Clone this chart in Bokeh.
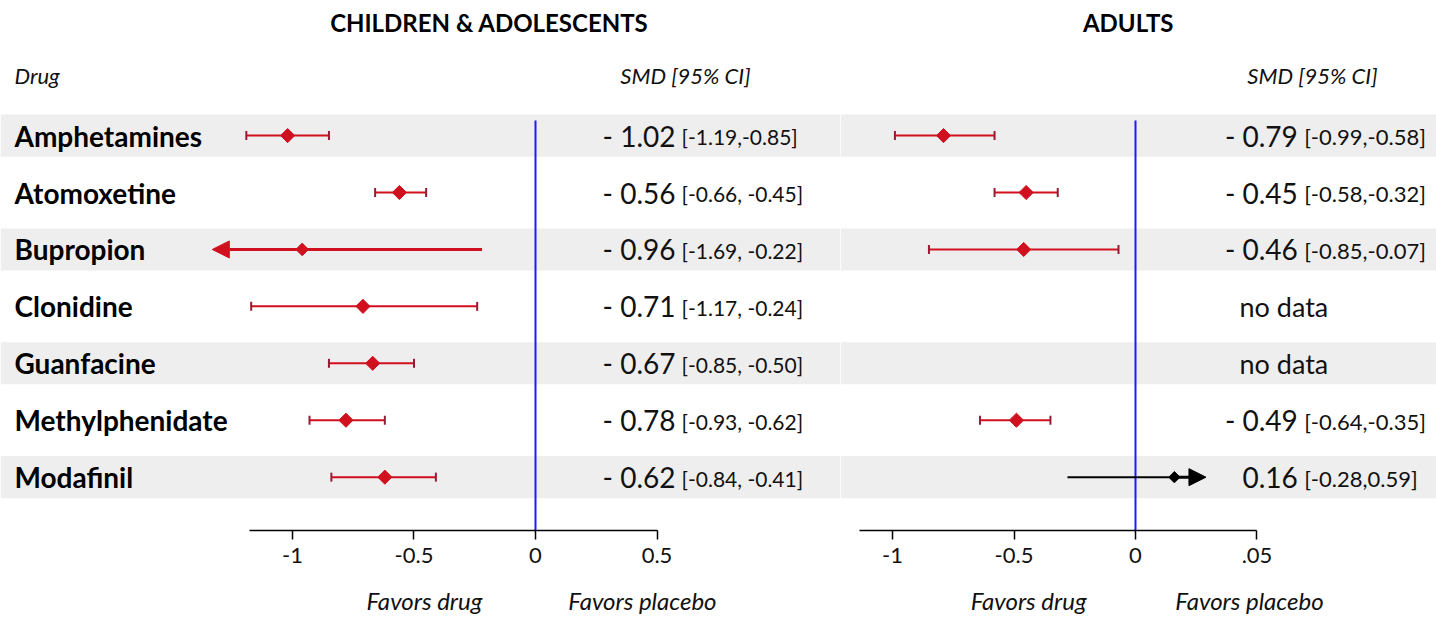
from bokeh.plotting import figure
from bokeh.models import (Range1d, LinearAxis, FixedTicker, ColumnDataSource, Whisker,
                          TeeHead, Arrow, NormalHead, BoxAnnotation)
from bokeh.layouts import row, column
from bokeh.embed import file_html
from bokeh.resources import INLINE
from bokeh.core.properties import value

# ---------------- data ----------------
drugs = ["Amphetamines", "Atomoxetine", "Bupropion", "Clonidine",
         "Guanfacine", "Methylphenidate", "Modafinil"]

child_smd = [-1.02, -0.56, -0.96, -0.71, -0.67, -0.78, -0.62]
child_lo = [-1.19, -0.66, -1.69, -1.17, -0.85, -0.93, -0.84]
child_hi = [-0.85, -0.45, -0.22, -0.24, -0.50, -0.62, -0.41]
child_main = ["- 1.02", "- 0.56", "- 0.96", "- 0.71", "- 0.67", "- 0.78", "- 0.62"]
child_ci = ["[-1.19,-0.85]", "[-0.66, -0.45]", "[-1.69, -0.22]", "[-1.17, -0.24]",
            "[-0.85, -0.50]", "[-0.93, -0.62]", "[-0.84, -0.41]"]

adult_smd = [-0.79, -0.45, -0.46, None, None, -0.49, 0.16]
adult_lo = [-0.99, -0.58, -0.85, None, None, -0.64, -0.28]
adult_hi = [-0.58, -0.32, -0.07, None, None, -0.35, 0.59]
adult_main = ["- 0.79", "- 0.45", "- 0.46", "no data", "no data", "- 0.49", "0.16"]
adult_ci = ["[-0.99,-0.58]", "[-0.58,-0.32]", "[-0.85,-0.07]", "", "",
            "[-0.64,-0.35]", "[-0.28,0.59]"]

ticks = [-1, -0.5, 0, 0.5]
child_tick_labels = ["-1", "-0.5", "0", "0.5"]
adult_tick_labels = ["-1", "-0.5", "0", ".05"]

titles = ["CHILDREN & ADOLESCENTS", "ADULTS"]
favors = ["Favors drug", "Favors placebo"]

# ---------------- style / layout ----------------
FONT = "Lato"
RED = "#d0101e"
CAP = "#9a1a35"
BLUE = "#1a1aff"
BAND = "#eeeeee"
TXT = "#111111"
H_MAIN = 580
H_CAP = 38
Y_RANGE = (6.937, -2.373)
Y_TITLE = -1.985
Y_SUB = -1.056


def base_fig(width, xr):
    p = figure(width=width, height=H_MAIN, x_range=xr, y_range=Range1d(*Y_RANGE),
               output_backend="svg", toolbar_location=None,
               min_border_left=0, min_border_right=0, min_border_top=0, min_border_bottom=50,
               x_axis_location=None, y_axis_location=None, outline_line_color=None,
               background_fill_color="white", border_fill_color="white")
    p.grid.visible = False
    for i in range(0, len(drugs), 2):
        p.add_layout(BoxAnnotation(top=i - 0.37, bottom=i + 0.37, fill_color=BAND,
                                   fill_alpha=1, line_alpha=0, level="image"))
    return p


def cap_fig(width, xr, fav_x):
    c = figure(width=width, height=H_CAP, x_range=xr, y_range=Range1d(0, H_CAP),
               output_backend="svg", toolbar_location=None,
               min_border_left=0, min_border_right=0, min_border_top=0, min_border_bottom=0,
               x_axis_location=None, y_axis_location=None, outline_line_color=None,
               background_fill_color="white", border_fill_color="white")
    c.grid.visible = False
    c.text(x=fav_x, y=[18, 18], text=favors, text_align="center",
           text_baseline="middle", text_font=value(FONT), text_font_size="24px",
           text_font_style="italic", text_color=TXT)
    return c


def add_axis(p, bounds, labels):
    ax = LinearAxis(ticker=FixedTicker(ticks=ticks), bounds=bounds,
                    major_label_overrides={t: l for t, l in zip(ticks, labels)},
                    axis_line_width=1.5, axis_line_color="black",
                    major_tick_line_width=1.5, major_tick_in=0, major_tick_out=9,
                    minor_tick_line_color=None,
                    major_label_text_font=FONT, major_label_text_font_size="22px",
                    major_label_text_color=TXT, major_label_standoff=8)
    p.add_layout(ax, "below")


def add_forest(p, smd, lo, hi, arrow_end, lim_lo, lim_hi):
    idx = [i for i in range(len(drugs)) if smd[i] is not None]
    normal = [i for i in idx if lim_lo <= lo[i] and hi[i] <= lim_hi]
    arrows = [i for i in idx if i not in normal]
    src = ColumnDataSource(dict(y=normal, x=[smd[i] for i in normal],
                                lo=[lo[i] for i in normal], hi=[hi[i] for i in normal]))
    p.add_layout(Whisker(source=src, base="y", lower="lo", upper="hi", dimension="width",
                         line_color=RED, line_width=2, level="glyph",
                         lower_head=TeeHead(size=9, line_color=CAP, line_width=2),
                         upper_head=TeeHead(size=9, line_color=CAP, line_width=2)))
    p.scatter("x", "y", source=src, marker="square", angle=0.785398, size=10,
              fill_color=RED, line_color=RED)
    for i in arrows:
        crosses = lo[i] < 0 < hi[i]
        col = "black" if crosses else RED
        if lo[i] < lim_lo:
            x_other, w_other = hi[i], 3
        else:
            x_other, w_other = lo[i], 2
        s = ColumnDataSource(dict(y=[i], x=[smd[i]], x0=[x_other], x1=[arrow_end]))
        p.segment(x0="x0", y0="y", x1="x", y1="y", source=s, line_color=col,
                  line_width=w_other)
        p.add_layout(Arrow(source=s, x_start="x", y_start="y", x_end="x1", y_end="y",
                           line_color=col, line_width=3, level="glyph",
                           end=NormalHead(size=17, fill_color=col, line_color=col)))
        p.scatter("x", "y", source=s, marker="square", angle=0.785398,
                  size=8 if col == "black" else 9, fill_color=col, line_color=col)


def add_values(p, main, ci, x_main, x_ci, x_nodata, ci_size):
    rows_v = [i for i in range(len(drugs)) if ci[i]]
    rows_n = [i for i in range(len(drugs)) if not ci[i]]
    s = ColumnDataSource(dict(y=rows_v, m=[main[i] for i in rows_v], c=[ci[i] for i in rows_v]))
    p.text(x=x_main, y="y", text="m", source=s, text_align="right", text_baseline="middle",
           text_font=value(FONT), text_font_size="28px", text_color=TXT)
    p.text(x=x_ci, y="y", text="c", source=s, text_align="left", text_baseline="middle",
           text_font=value(FONT), text_font_size=ci_size, text_color=TXT, y_offset=1)
    if rows_n:
        n = ColumnDataSource(dict(y=rows_n, m=[main[i] for i in rows_n]))
        p.text(x=x_nodata, y="y", text="m", source=n, text_align="left",
               text_baseline="middle", text_font=value(FONT), text_font_size="27px",
               text_color=TXT)


def add_headers(p, title, title_x, smd_x):
    p.text(x=[title_x], y=[Y_TITLE], text=[title], text_align="center", text_baseline="middle",
           text_font=value(FONT), text_font_size="24px", text_font_style="bold",
           text_color="black")
    p.text(x=[smd_x], y=[Y_SUB], text=["SMD [95% CI]"], text_align="center",
           text_baseline="middle", text_font=value(FONT), text_font_size="22px",
           text_font_style="italic", text_color=TXT)


def add_zero(p):
    p.segment(x0=[0], y0=[-0.265], x1=[0], y1=[Y_RANGE[0]], line_color=BLUE, line_width=2)


# ---------------- left panel (children & adolescents) ----------------
xr_left = Range1d(-2.2016, 1.2551)
left = base_fig(840, xr_left)
add_zero(left)
add_axis(left, (-1.177, 0.5), child_tick_labels)
add_forest(left, child_smd, child_lo, child_hi, -1.33, -1.33, 0.5)
left.text(x=-2.144, y=list(range(len(drugs))), text=drugs, text_align="left",
          text_baseline="middle", text_font=value(FONT), text_font_size="28px",
          text_font_style="bold", text_color="black")
left.text(x=[-2.144], y=[Y_SUB], text=["Drug"], text_align="left", text_baseline="middle",
          text_font=value(FONT), text_font_size="22px", text_font_style="italic",
          text_color=TXT)
add_headers(left, titles[0], -0.19, 0.617)
add_values(left, child_main, child_ci, 0.576, 0.601, 0.0, "21px")
left_cap = cap_fig(840, xr_left, [-0.457, 0.440])

# ---------------- right panel (adults) ----------------
xr_right = Range1d(-1.2140, 1.2387)
right = base_fig(596, xr_right)
add_zero(right)
add_axis(right, (-1.136, 0.5), adult_tick_labels)
add_forest(right, adult_smd, adult_lo, adult_hi, 0.29, -1.2, 0.5)
add_headers(right, titles[1], -0.03, 0.728)
add_values(right, adult_main, adult_ci, 0.668, 0.694, 0.428, "22px")
right_cap = cap_fig(596, xr_right, [-0.440, 0.469])

layout = row(column(left, left_cap, spacing=0), column(right, right_cap, spacing=0), spacing=0)
open("out.html", "w").write(file_html(layout, INLINE))
